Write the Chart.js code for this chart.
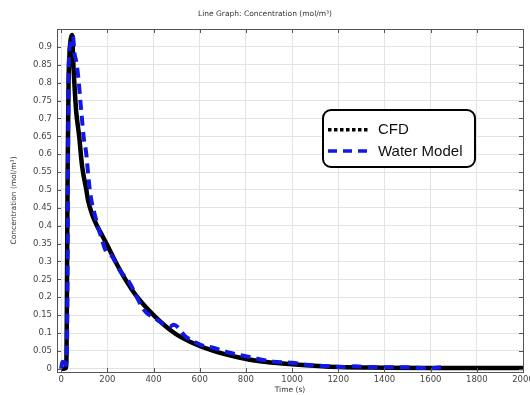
<!DOCTYPE html>
<html>
<head>
<meta charset="utf-8">
<script src="https://cdn.jsdelivr.net/npm/chart.js@4.4.1/dist/chart.umd.min.js"></script>
<style>
  html, body { margin: 0; padding: 0; background: #fff; }
  #wrap { width: 530px; height: 395px; }
</style>
</head>
<body>
<div id="wrap"><canvas id="concChart" width="530" height="395"></canvas></div>
<script>
// CFD curve (time in s, concentration in mol/m3)
const cfdTime = [0, 10, 20, 23, 25, 28, 32, 36, 41, 47, 53, 57, 65, 78, 90, 109, 117, 135, 155, 180, 200, 235, 278, 330, 400, 490, 560, 660, 760, 860, 1000, 1200, 1400, 1600, 1800, 2000];
const cfdConc = [0, 0, 0.002, 0.03, 0.2, 0.55, 0.8, 0.88, 0.92, 0.933, 0.85, 0.8, 0.72, 0.65, 0.57, 0.5, 0.47, 0.43, 0.4, 0.37, 0.345, 0.3, 0.25, 0.2, 0.15, 0.1, 0.075, 0.05, 0.033, 0.021, 0.013, 0.005, 0.003, 0.002, 0.002, 0.002];

// Water model measurements
const waterTime = [0, 5, 10, 15, 20, 25, 28, 30, 33, 38, 45, 51, 58, 65, 75, 83, 90, 97, 109, 116, 126, 148, 170, 199, 215, 257, 293, 358, 416, 470, 488, 539, 604, 662, 735, 800, 916, 1000, 1061, 1133, 1220, 1270, 1350, 1430, 1500, 1580, 1645];
const waterConc = [0, 0.02, 0.005, 0.02, 0.01, 0.05, 0.3, 0.6, 0.85, 0.9, 0.92, 0.93, 0.88, 0.86, 0.81, 0.75, 0.7, 0.65, 0.6, 0.55, 0.49, 0.425, 0.375, 0.323, 0.318, 0.272, 0.244, 0.165, 0.137, 0.118, 0.123, 0.09, 0.067, 0.058, 0.044, 0.035, 0.02, 0.017, 0.011, 0.008, 0.005, 0.007, 0.004, 0.004, 0.004, 0.002, 0.004];

// axis ticks
const xTicks = [0, 200, 400, 600, 800, 1000, 1200, 1400, 1600, 1800, 2000];
const yTicks = [0, 0.05, 0.1, 0.15, 0.2, 0.25, 0.3, 0.35, 0.4, 0.45, 0.5, 0.55, 0.6, 0.65, 0.7, 0.75, 0.8, 0.85, 0.9];

const blue = "rgb(18,24,228)";
const tickFont = { family: "DejaVu Sans", size: 8.5 };

// frame + inner tick marks, like the original plot
const framePlugin = {
  id: "frame",
  afterDatasetsDraw(chart) {
    const { ctx, chartArea: a, scales } = chart;
    ctx.save();
    ctx.strokeStyle = "#555";
    ctx.lineWidth = 1;
    ctx.beginPath();
    xTicks.forEach(function (v) {
      const px = Math.round(scales.x.getPixelForValue(v)) + 0.5;
      ctx.moveTo(px, a.bottom); ctx.lineTo(px, a.bottom - 4);
      ctx.moveTo(px, a.top); ctx.lineTo(px, a.top + 4);
    });
    yTicks.forEach(function (v) {
      const py = Math.round(scales.y.getPixelForValue(v)) + 0.5;
      ctx.moveTo(a.left, py); ctx.lineTo(a.left + 4, py);
      ctx.moveTo(a.right, py); ctx.lineTo(a.right - 4, py);
    });
    ctx.stroke();
    ctx.strokeRect(Math.round(a.left) + 0.5, Math.round(a.top) + 0.5, Math.round(a.right - a.left), Math.round(a.bottom - a.top));
    ctx.restore();
  }
};

// boxed legend inside the plot
const boxLegend = {
  id: "boxLegend",
  afterDraw(chart) {
    const { ctx } = chart;
    const x = 323, y = 110, w = 152, h = 57, r = 8;
    ctx.save();
    ctx.fillStyle = "#fff";
    ctx.strokeStyle = "#000";
    ctx.lineWidth = 2;
    ctx.beginPath();
    ctx.roundRect(x, y, w, h, r);
    ctx.fill();
    ctx.stroke();

    // CFD sample: dotted black
    ctx.fillStyle = "#000";
    for (let i = 0; i < 7; i++) {
      ctx.fillRect(328 + i * 6, 128, 3.5, 3.5);
    }
    // Water model sample: dashed blue
    ctx.strokeStyle = blue;
    ctx.lineWidth = 3.5;
    ctx.setLineDash([9, 6]);
    ctx.beginPath();
    ctx.moveTo(328, 151);
    ctx.lineTo(371, 151);
    ctx.stroke();
    ctx.setLineDash([]);

    ctx.fillStyle = "#111";
    ctx.font = "15px 'Liberation Sans', Arial, sans-serif";
    ctx.textBaseline = "middle";
    ctx.fillText(chart.data.datasets[0].label, 378, 130);
    ctx.fillText(chart.data.datasets[1].label, 378, 152);
    ctx.restore();
  }
};

new Chart(document.getElementById("concChart"), {
  type: "scatter",
  data: {
    datasets: [
      {
        label: "CFD",
        data: cfdTime.map(function (t, i) { return { x: t, y: cfdConc[i] }; }),
        showLine: true,
        borderColor: "#000",
        borderWidth: 4.5,
        pointRadius: 0,
        cubicInterpolationMode: "monotone",
        order: 2
      },
      {
        label: "Water Model",
        data: waterTime.map(function (t, i) { return { x: t, y: waterConc[i] }; }),
        showLine: true,
        borderColor: blue,
        borderWidth: 4,
        borderDash: [10, 6],
        pointRadius: 0,
        cubicInterpolationMode: "monotone",
        order: 1
      }
    ]
  },
  options: {
    responsive: false,
    animation: false,
    layout: { padding: { right: 0, left: 0, bottom: 0 } },
    plugins: {
      legend: { display: false },
      tooltip: { enabled: false },
      title: {
        display: true,
        text: "Line Graph: Concentration (mol/m\u00b3)",
        color: "#333",
        font: { family: "DejaVu Sans", size: 7.5, weight: "normal" },
        padding: { top: 10, bottom: 10 }
      }
    },
    scales: {
      x: {
        type: "linear",
        min: -18,
        max: 2000,
        afterBuildTicks: function (s) { s.ticks = xTicks.map(function (v) { return { value: v }; }); },
        afterFit: function (s) { s.height = 23; s.paddingRight = 7; s.paddingLeft = 0; },
        ticks: {
          color: "#444",
          font: tickFont,
          padding: 3,
          maxRotation: 0,
          callback: function (v) { return String(v); }
        },
        grid: { color: "#e3e3e3", drawTicks: false },
        border: { display: false },
        title: {
          display: true,
          text: "Time (s)",
          color: "#333",
          font: { family: "DejaVu Sans", size: 7.5 },
          padding: { top: 0, bottom: 0 }
        }
      },
      y: {
        min: -0.009,
        max: 0.95,
        afterBuildTicks: function (s) { s.ticks = yTicks.map(function (v) { return { value: v }; }); },
        afterFit: function (s) { s.width = 57; },
        ticks: {
          color: "#444",
          font: tickFont,
          padding: 5,
          callback: function (v) { return String(Math.round(v * 100) / 100); }
        },
        grid: { color: "#e3e3e3", drawTicks: false },
        border: { display: false },
        title: {
          display: true,
          text: "Concentration (mol/m\u00b3)",
          color: "#333",
          font: { family: "DejaVu Sans", size: 7.5 },
          padding: { top: 10, bottom: 0 }
        }
      }
    }
  },
  plugins: [framePlugin, boxLegend]
});
</script>
</body>
</html>
